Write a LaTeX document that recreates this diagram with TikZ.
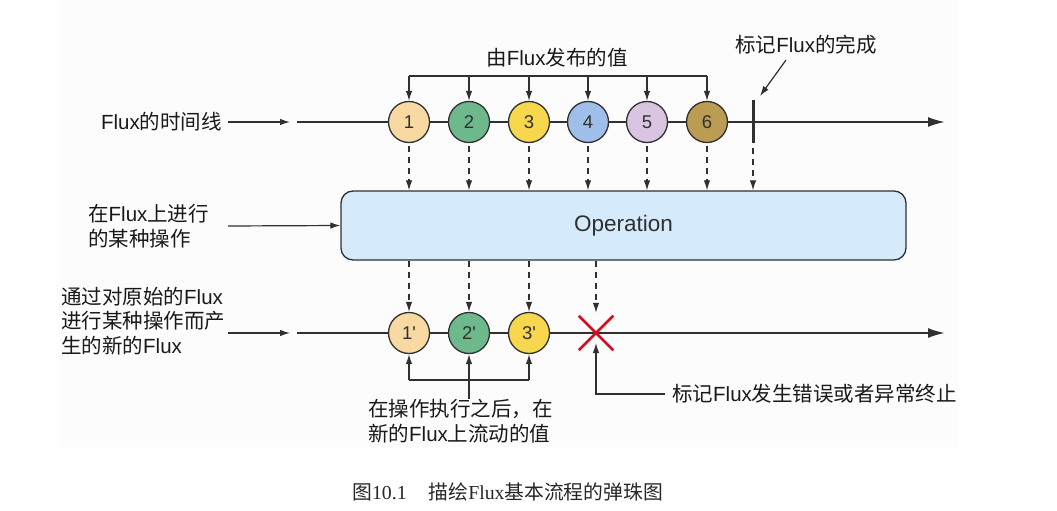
\documentclass[tikz,border=0pt]{standalone}
\usepackage{fontspec}
\setmainfont{Liberation Sans}
\newfontfamily\cjkfont{Noto Sans CJK SC}
\newfontfamily\capserif{Liberation Serif}
\newcommand\zhtext[1]{{\cjkfont #1}}
\usetikzlibrary{arrows.meta,shapes.misc}
\definecolor{panelgray}{HTML}{FCFCFC}
\definecolor{inkgray}{HTML}{303030}
\definecolor{cone}{HTML}{F8D9A2}
\definecolor{ctwo}{HTML}{6DB98C}
\definecolor{cthree}{HTML}{F6D74E}
\definecolor{cfour}{HTML}{9FBFEA}
\definecolor{cfive}{HTML}{D9C5E1}
\definecolor{csix}{HTML}{BA9C52}
\definecolor{opfill}{HTML}{D5EAFA}
\definecolor{errred}{HTML}{D01020}
\begin{document}
\begin{tikzpicture}[x=1pt,y=-1pt,
  lbl/.style={font=\fontsize{20.5}{24.5}\selectfont, text=black!90, inner sep=0pt, align=left},
  marble/.style={circle, draw=inkgray, line width=1.3pt, minimum size=41pt, inner sep=0pt,
                 font=\fontsize{18.5}{18.5}\selectfont, text=inkgray},
  arr/.style={line width=1.2pt, draw=inkgray, -{Latex[length=10pt,width=6.5pt]}},
  darr/.style={arr, dash pattern=on 6pt off 5pt},
  plainline/.style={line width=1.2pt, draw=inkgray},
  timeline/.style={line width=2pt, draw=inkgray, -{Latex[length=17pt,width=10pt]}},
  opbox/.style={draw=inkgray, fill=opfill, line width=1.3pt, rounded corners=12pt,
                minimum width=565pt, minimum height=69pt, font=\fontsize{22.5}{22.5}\selectfont, text=inkgray}
]
\useasboundingbox (0,0) rectangle (1057,511);
\fill[panelgray] (60,0) rectangle (958,447);

% ---------- top timeline ----------
\coordinate (t1s) at (297,122);
\coordinate (t1e) at (945,122);
\draw[timeline] (t1s) -- (t1e);
\node[lbl, anchor=east] (lab1) at (222,122) {Flux\zhtext{的时间线}};
\draw[arr] ([xshift=6pt]lab1.east) -- ([xshift=-7pt]t1s);

\node[marble, fill=cone]   (m1) at (409,122) {1};
\node[marble, fill=ctwo]   (m2) at (469,122) {2};
\node[marble, fill=cthree] (m3) at (529,122) {3};
\node[marble, fill=cfour]  (m4) at (588,122) {4};
\node[marble, fill=cfive]  (m5) at (647,122) {5};
\node[marble, fill=csix]   (m6) at (707,122) {6};

% publish bracket
\node[lbl] (publbl) at (557,58) {\zhtext{由}Flux\zhtext{发布的值}};
\coordinate (pub) at (557,76);
\draw[plainline] (m1|-pub) -- (m6|-pub);
\foreach \m in {m1,m2,m3,m4,m5,m6}{
  \draw[arr] (\m|-pub) -- (\m.north);
}

% completion bar
\coordinate (doneT) at (753,100);
\coordinate (doneB) at (753,143);
\draw[line width=3pt, draw=inkgray] (doneT) -- (doneB);
\node[lbl] (donelbl) at (806,45) {\zhtext{标记}Flux\zhtext{的完成}};
\coordinate (donefrom) at (786,60);
\coordinate (doneto) at (760,96);
\draw[arr] (donefrom) -- (doneto);

% ---------- operation ----------
\node[opbox] (op) at (623.5,225.5) {Operation};
\node[lbl, anchor=west] (lab2) at (88,226) {\zhtext{在}Flux\zhtext{上进行}\\\zhtext{的某种操作}};
\coordinate (lab2a) at (228,226);
\draw[arr] (lab2a) -- (op.west);

\foreach \m in {m1,m2,m3,m4,m5,m6}{
  \draw[darr] ([yshift=-3pt]\m.south) -- (\m|-op.north);
}
\draw[darr] ([yshift=-5pt]doneB) -- (doneB|-op.north);

% ---------- bottom timeline ----------
\coordinate (t2s) at (297,333);
\coordinate (t2e) at (945,333);
\draw[timeline] (t2s) -- (t2e);
\node[lbl, anchor=west] (lab3) at (61,321)
  {\zhtext{通过对原始的}Flux\\\zhtext{进行某种操作而产}\\\zhtext{生的新的}Flux};
\coordinate (lab3a) at (228,333);
\draw[arr] (lab3a) -- ([xshift=-7pt]t2s);

\node[marble, fill=cone]   (p1) at (409,333) {1\textquotesingle};
\node[marble, fill=ctwo]   (p2) at (469,333) {2\textquotesingle};
\node[marble, fill=cthree] (p3) at (529,333) {3\textquotesingle};

\node[draw=errred, cross out, line width=2.5pt, minimum size=32pt, inner sep=0pt] (err) at (596,333) {};

\foreach \m in {p1,p2,p3}{
  \draw[darr] (\m|-op.south) -- (\m.north);
}
\draw[darr] (err|-op.south) -- ([yshift=3pt]err.north);

% bottom bracket
\coordinate (vb) at (469,380);
\node[lbl, anchor=north west] (vlbl) at (368,399)
  {\zhtext{在操作执行之后，在}\\\zhtext{新的}Flux\zhtext{上流动的值}};
\draw[plainline] (p1|-vb) -- (p3|-vb);
\draw[arr] (p1|-vb) -- (p1.south);
\draw[arr] (p3|-vb) -- (p3.south);
\draw[arr] (p2|-vlbl.north) -- (p2.south);

% error label
\node[lbl, anchor=west] (errlbl) at (672,394) {\zhtext{标记}Flux\zhtext{发生错误或者异常终止}};
\coordinate (errtip) at (596,343);
\draw[arr] ([xshift=-7pt]errlbl.west) -| (errtip);

% caption
\node[font=\capserif\fontsize{19.8}{19.8}\selectfont, text=black!85, inner sep=0pt, anchor=west] (cap) at (352,492)
  {\zhtext{图}10.1\hspace{22pt}\zhtext{描绘}Flux\zhtext{基本流程的弹珠图}};
\end{tikzpicture}
\end{document}
